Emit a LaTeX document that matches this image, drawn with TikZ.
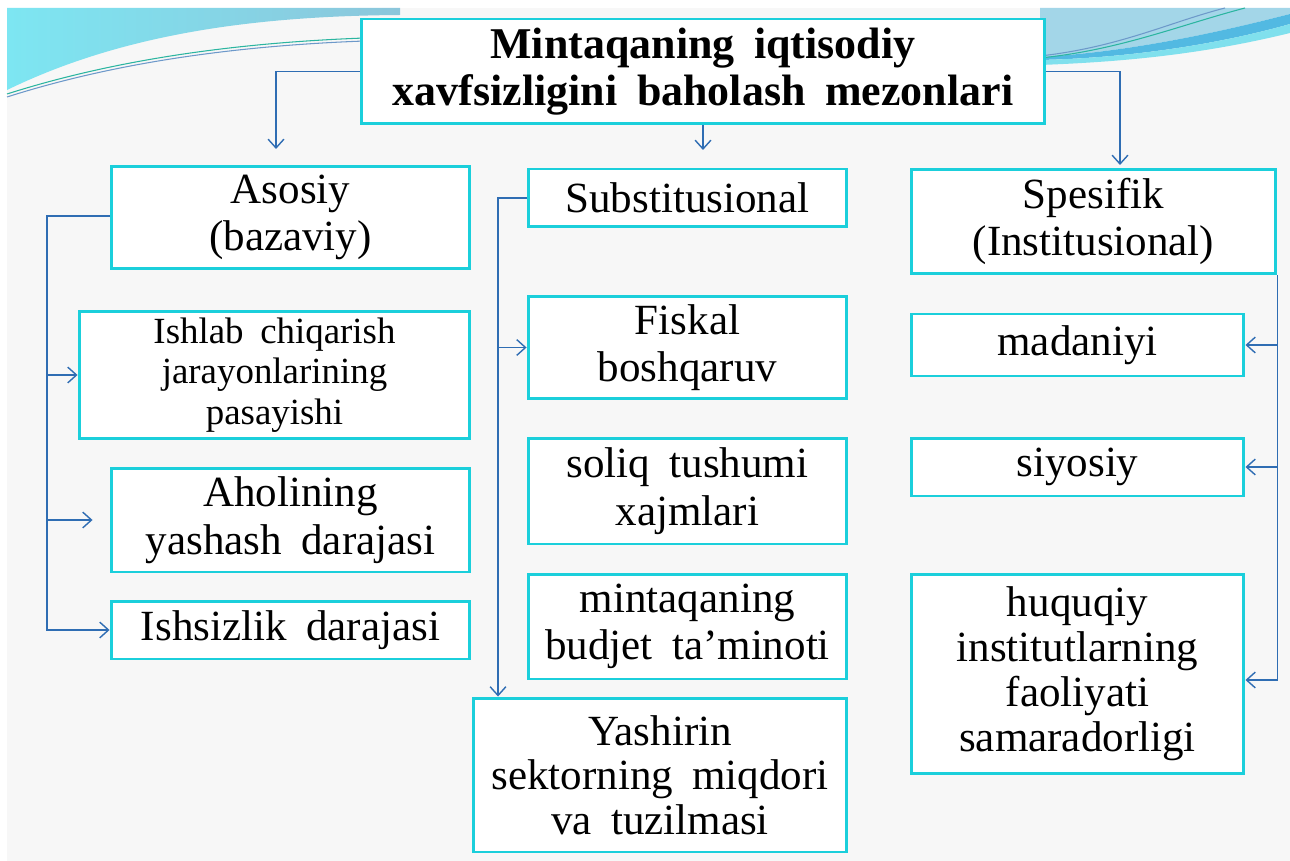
\documentclass[tikz,border=0pt]{standalone}
\usepackage{fontspec}
\setmainfont{Liberation Serif}[WordSpace=1.8]
\usetikzlibrary{arrows.meta}
\definecolor{boxcyan}{HTML}{1BCFDB}
\definecolor{linkblue}{HTML}{2F6DB3}
\definecolor{slidebg}{HTML}{F7F7F7}
\definecolor{wavecyan}{HTML}{7DE6F2}
\definecolor{waveblue}{HTML}{8CC6DB}
\definecolor{wavemid}{HTML}{52B9E2}
\definecolor{wavelight}{HTML}{A3D6E8}
\definecolor{wavegreen}{HTML}{2BB5A0}

\begin{document}
\begin{tikzpicture}[x=0.02cm, y=-0.02cm,
  box/.style={rectangle, draw=boxcyan, line width=1.7pt, fill=white, align=center, inner sep=2pt,
              font=\fontsize{24.5}{27}\selectfont},
  arrow/.style={-{Straight Barb[length=5pt,width=9pt]}, draw=linkblue, line width=0.8pt},
  wave/.style={line width=0.6pt}]
  \useasboundingbox (0,0) rectangle (1290,861);
  % slide background
  \fill[white] (0,0) rectangle (1290,861);
  \fill[slidebg] (7,8) rectangle (1290,861);
  \shade[left color=wavecyan, right color=waveblue] (7,8) -- (400,8) -- (400,15) .. controls (250,16) and (120,35) .. (7,90) -- cycle;
  \draw[wave, wavegreen] (7,94) .. controls (120,58) and (250,40) .. (400,37);
  \draw[wave, linkblue!70] (7,97) .. controls (120,61) and (250,43) .. (400,40);
  \fill[wavelight] (1040,8) -- (1290,8) -- (1290,14) .. controls (1220,32) and (1130,52) .. (1040,57) -- cycle;
  \fill[wavemid] (1040,57) .. controls (1130,52) and (1220,32) .. (1290,14) -- (1290,24) .. controls (1220,44) and (1130,58) .. (1040,60) -- cycle;
  \fill[wavecyan!80!waveblue] (1040,60) .. controls (1130,58) and (1220,44) .. (1290,24) -- (1290,33) .. controls (1200,55) and (1120,62) .. (1040,65) -- cycle;
  \draw[wave, wavegreen] (1040,58) .. controls (1120,50) and (1180,25) .. (1245,8);
  \draw[wave, linkblue!70] (1040,56) .. controls (1120,47) and (1170,22) .. (1225,8);

  % header
  \node[box, minimum width=13.68cm, minimum height=2.1cm,
        font=\bfseries\fontsize{25}{26.7}\selectfont] (title) at (703,71.5)
        {Mintaqaning iqtisodiy\\xavfsizligini baholash mezonlari};

  % three groups
  \node[box, minimum width=7.18cm, minimum height=2.06cm] (asosiy) at (290.5,217.5) {Asosiy\\(bazaviy)};
  \node[box, minimum width=6.38cm, minimum height=1.16cm] (subst) at (687.5,198) {Substitusional};
  \node[box, minimum width=7.3cm, minimum height=2.1cm] (spes) at (1093.5,221.5) {Spesifik\\(Institusional)};

  % left column
  \node[box, minimum width=7.82cm, minimum height=2.56cm, font=\fontsize{21}{23}\selectfont] (ishlab) at (274.5,375)
        {Ishlab chiqarish\\jarayonlarining\\pasayishi};
  \node[box, minimum width=7.18cm, minimum height=2.08cm] (aholi) at (290.5,520) {Aholining\\yashash darajasi};
  \node[box, minimum width=7.18cm, minimum height=1.16cm] (ishsiz) at (290.5,630) {Ishsizlik darajasi};

  % middle column
  \node[box, minimum width=6.38cm, minimum height=2.06cm] (fiskal) at (687.5,347.5) {Fiskal\\boshqaruv};
  \node[box, minimum width=6.38cm, minimum height=2.12cm] (soliq) at (687.5,491) {soliq tushumi\\xajmlari};
  \node[box, minimum width=6.38cm, minimum height=2.1cm] (budjet) at (687.5,626.5) {mintaqaning\\budjet ta’minoti};
  \node[box, minimum width=7.48cm, minimum height=3.08cm, font=\fontsize{24.5}{25.2}\selectfont] (yashirin) at (660,775)
        {Yashirin\\sektorning miqdori\\va tuzilmasi};

  % right column
  \node[box, minimum width=6.66cm, minimum height=1.24cm] (madan) at (1077.5,345) {madaniyi};
  \node[box, minimum width=6.66cm, minimum height=1.16cm] (siyos) at (1077.5,467) {siyosiy};
  \node[box, minimum width=6.66cm, minimum height=4cm, font=\fontsize{24.5}{25.6}\selectfont] (huquq) at (1077.5,674)
        {huquqiy\\institutlarning\\faoliyati\\samaradorligi};

  % connectors
  \coordinate (a1) at (276,149);
  \coordinate (a2) at (703,150);
  \coordinate (a3) at (1120,165);
  \coordinate (lt) at (47,216);
  \coordinate (st) at (498,198);
  \draw[arrow] (title.west) -| (a1);
  \draw[arrow] (title.south) -- (a2);
  \draw[arrow] (title.east) -| (a3);

  \draw[arrow] (asosiy.west |- lt) -- (lt) |- (ishsiz.west);
  \draw[arrow] (ishlab.west -| lt) -- (ishlab.west);
  \draw[arrow] (aholi.west -| lt) -- ([xshift=-0.34cm]aholi.west);

  \draw[arrow] (subst.west) -- (st) -- (st |- yashirin.north);
  \draw[arrow] (fiskal.west -| st) -- (fiskal.west);

  \draw[arrow] (spes.south east) -- ([yshift=-0.12cm]spes.south east |- huquq.east) -- ([yshift=-0.12cm]huquq.east);
  \draw[arrow] (madan.east -| spes.south east) -- (madan.east);
  \draw[arrow] (siyos.east -| spes.south east) -- (siyos.east);
\end{tikzpicture}
\end{document}
